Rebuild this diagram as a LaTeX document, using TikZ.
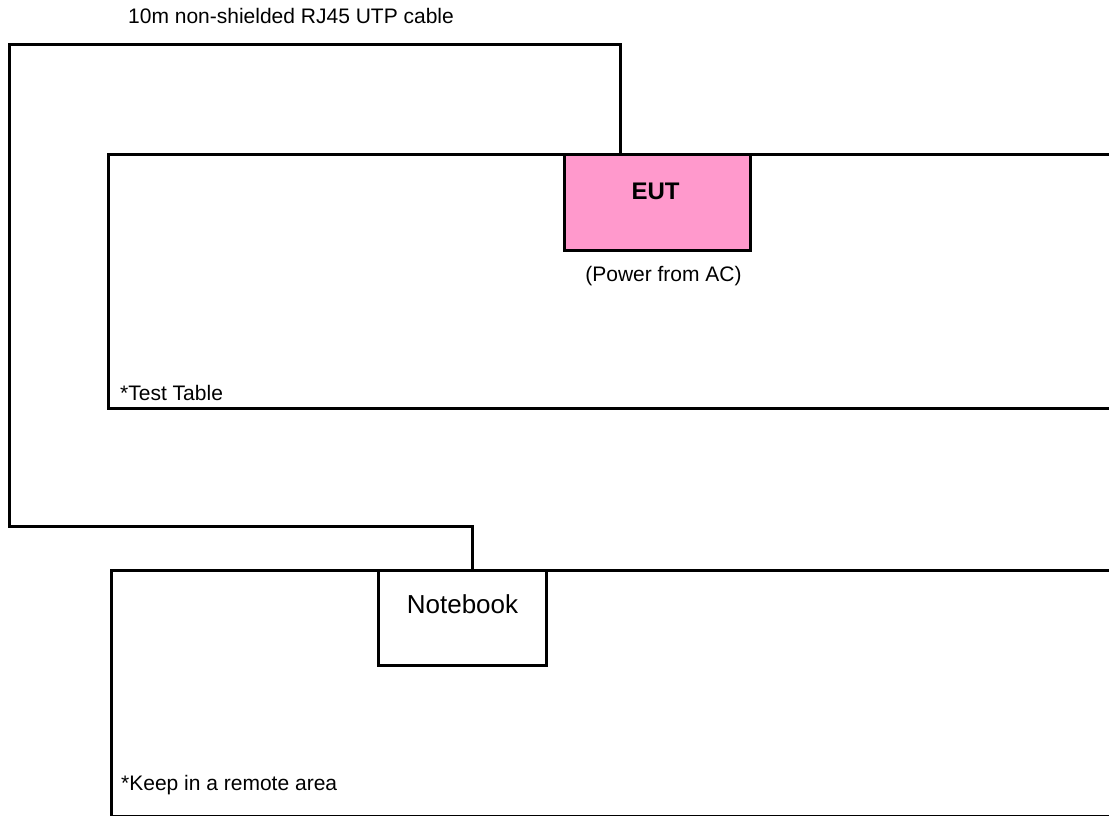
\documentclass[tikz,border=0pt]{standalone}
\usepackage{fontspec}
\setmainfont{Liberation Sans}
\usetikzlibrary{positioning}
\definecolor{eutPink}{HTML}{FF99CC}
\tikzset{
  tablebox/.style  = {draw, line width=3pt, inner sep=0pt, anchor=north west},
  unitbox/.style   = {draw, line width=3pt, inner sep=0pt, anchor=north west, fill=white},
  cable/.style     = {line width=3pt, line join=miter},
  lbl/.style       = {inner sep=0pt, font=\fontsize{21}{25}\selectfont},
  boldlbl/.style   = {inner sep=0pt, font=\fontsize{24}{28}\selectfont\bfseries},
}

\begin{document}
\begin{tikzpicture}[x=1pt, y=-1pt]
  \clip (0,0) rectangle (1109,816);
  % the two tables, both run off the right edge
  \node[tablebox, minimum width=1040pt, minimum height=254pt] (testtable) at (107,153) {};
  \node[tablebox, minimum width=1040pt, minimum height=246pt] (remotetable) at (110,569) {};
  \node[lbl, anchor=base west] (testlbl) at ([xshift=13pt, yshift=10pt]testtable.south west) {*Test Table};
  \node[lbl, anchor=base west] (remotelbl) at ([xshift=11pt, yshift=28pt]remotetable.south west) {*Keep in a remote area};
  % equipment under test and the notebook
  \node[unitbox, fill=eutPink, minimum width=186pt, minimum height=96pt] (eut) at (563,153) {};
  \node[boldlbl, anchor=base] (eutlbl) at ([xshift=-2pt, yshift=-46pt]eut.north) {EUT};
  \node[lbl, anchor=base] (powerlbl) at ([xshift=6pt, yshift=-29pt]eut.south) {(Power from AC)};
  \node[unitbox, minimum width=168pt, minimum height=95pt] (notebook) at (377,569) {};
  \node[inner sep=0pt, font=\fontsize{26}{30}\selectfont, anchor=base] (nblbl)
    at ([yshift=-44pt]notebook.north) {Notebook};
  % the RJ45 cable, looping round on the left
  \coordinate (eutport) at (620,153);
  \coordinate (nbport) at (472,569);
  \coordinate (bendtop) at (9,45);
  \coordinate (bendbot) at (9,526);
  \draw[cable] (eutport) |- (bendtop) -- (bendbot) -| (nbport);
  \node[lbl, anchor=base west] (cablelbl) at (128,24) {10m non-shielded RJ45 UTP cable};
\end{tikzpicture}
\end{document}
